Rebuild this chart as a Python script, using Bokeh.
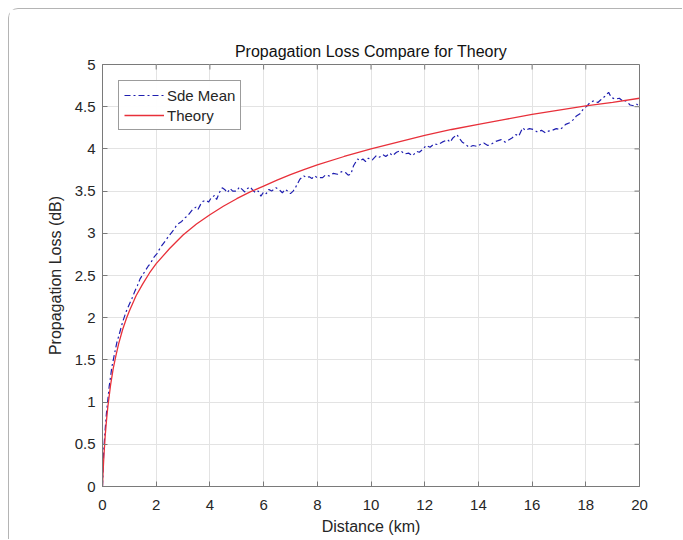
from bokeh.plotting import figure
from bokeh.models import Range1d, FixedTicker, Legend, LegendItem
from bokeh.embed import file_html
from bokeh.resources import INLINE

title_text = "Propagation Loss Compare for Theory"
x_label = "Distance (km)"
y_label = "Propagation Loss (dB)"
x_ticks = [0, 2, 4, 6, 8, 10, 12, 14, 16, 18, 20]
y_ticks = [0, 0.5, 1, 1.5, 2, 2.5, 3, 3.5, 4, 4.5, 5]

theory_x = [0, 0.02, 0.05, 0.1, 0.15, 0.2, 0.3, 0.4, 0.5, 0.6, 0.75, 0.9, 1.0, 1.25, 1.5,
            1.75, 2, 2.5, 3, 3.5, 4, 4.5, 5, 5.5, 6, 6.5, 7, 7.5, 8, 9,
            10, 11, 12, 13, 14, 15, 16, 17, 18, 19, 20]
theory_y = [0, 0.16, 0.35, 0.60, 0.79, 0.95, 1.20, 1.40, 1.55, 1.69, 1.86, 2.00, 2.08,
            2.26, 2.40, 2.53, 2.64, 2.82, 2.98, 3.11, 3.22, 3.32, 3.41, 3.49, 3.56, 3.63,
            3.696, 3.755, 3.81, 3.91, 4.00, 4.08, 4.16, 4.23, 4.29, 4.35, 4.41,
            4.46, 4.51, 4.55, 4.60]

sde_x = [0, 0.05, 0.1, 0.15, 0.2, 0.25, 0.3, 0.35, 0.44, 0.53, 0.63, 0.75, 0.89, 1.0,
         1.1, 1.2, 1.3, 1.4, 1.5, 1.58, 1.7, 1.8, 1.9, 2.03, 2.1, 2.2, 2.34, 2.45, 2.55,
         2.65, 2.75, 2.85, 2.95, 3.05, 3.15, 3.25, 3.35, 3.48, 3.55, 3.65, 3.75, 3.86,
         3.95, 4.05, 4.18, 4.25, 4.35, 4.46, 4.55, 4.65, 4.75, 4.85, 5.0, 5.1, 5.2, 5.3,
         5.4, 5.5, 5.6, 5.7, 5.8, 5.9, 6.0, 6.1, 6.2, 6.3, 6.46, 6.6, 6.7, 6.8, 6.9, 7.0,
         7.1, 7.2, 7.35, 7.5, 7.6, 7.7, 7.8, 7.9, 8.0, 8.2, 8.3, 8.45, 8.6, 8.75, 8.9,
         9.05, 9.15, 9.25, 9.35, 9.5, 9.6, 9.7, 9.8, 9.9, 10.05, 10.2, 10.3, 10.45, 10.55,
         10.7, 10.8, 10.95, 11.1, 11.25, 11.4, 11.55, 11.7, 11.8, 11.95, 12.05, 12.2,
         12.35, 12.5, 12.65, 12.85, 12.95, 13.05, 13.2, 13.3, 13.4, 13.5, 13.65, 13.8,
         13.95, 14.05, 14.2, 14.35, 14.5, 14.65, 14.85, 15.0, 15.1, 15.25, 15.4, 15.5,
         15.65, 15.75, 15.9, 16.05, 16.2, 16.35, 16.5, 16.6, 16.75, 16.9, 17.05, 17.25,
         17.4, 17.55, 17.65, 17.8, 17.9, 18.05, 18.15, 18.3, 18.45, 18.55, 18.7, 18.85,
         18.95, 19.1, 19.25, 19.4, 19.5, 19.65, 19.8, 19.9, 20.0]
sde_y = [0, 0.45, 0.68, 0.88, 1.03, 1.19, 1.30, 1.42, 1.56, 1.70, 1.81, 1.95, 2.08, 2.16,
         2.23, 2.31, 2.38, 2.46, 2.51, 2.55, 2.61, 2.65, 2.71, 2.76, 2.80, 2.85, 2.91,
         2.96, 3.00, 3.04, 3.09, 3.12, 3.14, 3.18, 3.20, 3.24, 3.28, 3.31, 3.28, 3.34,
         3.38, 3.39, 3.37, 3.42, 3.45, 3.40, 3.48, 3.54, 3.52, 3.48, 3.53, 3.50, 3.50,
         3.55, 3.52, 3.49, 3.53, 3.55, 3.51, 3.48, 3.50, 3.44, 3.49, 3.47, 3.52, 3.50,
         3.54, 3.51, 3.48, 3.52, 3.50, 3.47, 3.50, 3.55, 3.64, 3.68, 3.66, 3.67, 3.65,
         3.68, 3.66, 3.66, 3.69, 3.68, 3.71, 3.70, 3.73, 3.72, 3.69, 3.70, 3.80, 3.88,
         3.86, 3.88, 3.85, 3.89, 3.87, 3.92, 3.90, 3.93, 3.91, 3.95, 3.92, 3.96, 3.98,
         3.94, 3.95, 3.92, 3.97, 3.96, 4.00, 4.04, 4.02, 4.06, 4.05, 4.08, 4.11, 4.08,
         4.13, 4.17, 4.12, 4.08, 4.06, 4.02, 4.04, 4.03, 4.05, 4.07, 4.04, 4.06, 4.09,
         4.11, 4.08, 4.10, 4.13, 4.17, 4.15, 4.25, 4.22, 4.24, 4.23, 4.20, 4.22, 4.19,
         4.21, 4.22, 4.24, 4.23, 4.29, 4.31, 4.35, 4.39, 4.42, 4.47, 4.51, 4.55, 4.57,
         4.55, 4.58, 4.62, 4.67, 4.61, 4.59, 4.60, 4.56, 4.57, 4.52, 4.51, 4.53, 4.50]

FONT = "Liberation Sans"
TXT = "#262626"
FRAME = "#7a7a7a"
X0, X1, Y0, Y1 = 0, 20, 0, 5
FRAME_W, FRAME_H = 537, 422

p = figure(width=674, height=531, output_backend="svg", toolbar_location=None,
           x_range=Range1d(X0, X1), y_range=Range1d(Y0, Y1),
           min_border_left=93, min_border_right=44, min_border_top=55, min_border_bottom=54,
           title=title_text)
p.styles = {"margin-left": "8px", "margin-top": "8px",
            "border-left": "1px solid #b4b4b4", "border-top": "1px solid #b4b4b4",
            "border-top-left-radius": "10px"}

p.title.text_font = FONT
p.title.text_font_size = "16px"
p.title.text_font_style = "normal"
p.title.text_color = "#111111"
p.title.align = "center"
p.title.standoff = 9

p.outline_line_color = FRAME
p.outline_line_width = 1

for ax in (p.xaxis[0], p.yaxis[0]):
    ax.major_tick_in = 5
    ax.major_tick_out = 0
    ax.minor_tick_in = 0
    ax.minor_tick_out = 0
    ax.axis_line_color = FRAME
    ax.major_tick_line_color = FRAME
    ax.major_label_text_font = FONT
    ax.major_label_text_font_size = "15px"
    ax.major_label_text_color = TXT
    ax.axis_label_text_font = FONT
    ax.axis_label_text_font_size = "16px"
    ax.axis_label_text_font_style = "normal"
    ax.axis_label_text_color = TXT

p.xaxis[0].ticker = FixedTicker(ticks=x_ticks)
p.yaxis[0].ticker = FixedTicker(ticks=y_ticks)
p.xaxis[0].axis_label = x_label
p.yaxis[0].axis_label = y_label
p.xaxis[0].major_label_standoff = 13
p.yaxis[0].major_label_standoff = 7
p.xaxis[0].axis_label_standoff = 5
p.yaxis[0].axis_label_standoff = 8

p.xgrid.ticker = FixedTicker(ticks=x_ticks)
p.ygrid.ticker = FixedTicker(ticks=y_ticks)
p.xgrid.grid_line_color = "#e3e3e3"
p.ygrid.grid_line_color = "#e3e3e3"

# inward ticks on the top and right edges of the box
tick_dy = 5 * (Y1 - Y0) / FRAME_H
tick_dx = 5 * (X1 - X0) / FRAME_W
p.segment(x0=x_ticks, y0=[Y1] * len(x_ticks), x1=x_ticks, y1=[Y1 - tick_dy] * len(x_ticks),
          line_color=FRAME, line_width=1)
p.segment(x0=[X1] * len(y_ticks), y0=y_ticks, x1=[X1 - tick_dx] * len(y_ticks), y1=y_ticks,
          line_color=FRAME, line_width=1)

r_sde = p.line(sde_x, sde_y, line_color="#1f1fb0", line_width=1.2, line_dash="6 3 2 3")
r_th = p.line(theory_x, theory_y, line_color="#e8303a", line_width=1.3)

legend = Legend(items=[LegendItem(label="Sde Mean", renderers=[r_sde]),
                       LegendItem(label="Theory", renderers=[r_th])],
                location="top_left", margin=16, padding=5, spacing=2,
                label_text_font=FONT, label_text_font_size="15px", label_text_color=TXT,
                border_line_color="#3a3a3a", border_line_width=1,
                glyph_width=40, glyph_height=18, label_height=18, label_standoff=3)
p.add_layout(legend)

open("out.html", "w").write(file_html(p, INLINE))
